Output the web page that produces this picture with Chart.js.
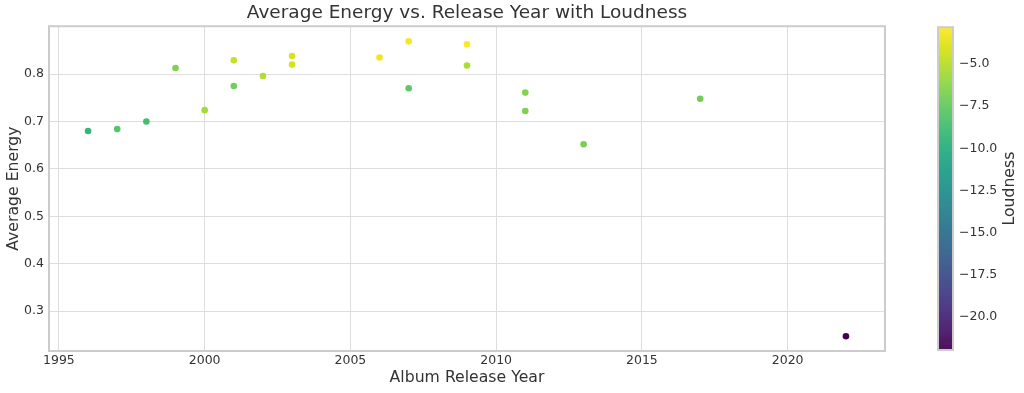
<!DOCTYPE html>
<html>
<head>
<meta charset="utf-8">
<script src="https://cdn.jsdelivr.net/npm/chart.js@4.4.1/dist/chart.umd.min.js"></script>
<style>
  html, body { margin: 0; padding: 0; background: #fff; }
  #wrap { width: 1024px; height: 393px; position: relative; }
</style>
</head>
<body>
<div id="wrap"><canvas id="c" width="1024" height="393"></canvas></div>
<script>
  'use strict';

  // data
  const YEARS = [1996, 1997, 1998, 1999, 2000, 2001, 2001, 2002, 2003, 2003,
                 2006, 2007, 2007, 2009, 2009, 2011, 2011, 2013, 2017, 2022];
  const ENERGY = [0.680, 0.684, 0.700, 0.813, 0.724, 0.829, 0.775, 0.796, 0.838, 0.820,
                  0.835, 0.869, 0.770, 0.863, 0.818, 0.761, 0.722, 0.652, 0.748, 0.247];
  const LOUDNESS = [-9.3, -8.0, -8.6, -6.6, -5.5, -4.5, -7.0, -5.1, -3.9, -4.1,
                    -3.2, -3.0, -7.6, -2.8, -5.2, -6.4, -6.6, -6.8, -7.0, -22.0];

  const X_TICKS = [1995, 2000, 2005, 2010, 2015, 2020];
  const Y_TICKS = [0.3, 0.4, 0.5, 0.6, 0.7, 0.8];
  const CB_TICKS = [-5.0, -7.5, -10.0, -12.5, -15.0, -17.5, -20.0];
  const CB_MIN = -22.0;
  const CB_MAX = -2.8;

  const VIRIDIS = ['#440154', '#48186a', '#472d7b', '#424086', '#3b528b', '#33638d',
                   '#2c728e', '#26828e', '#21918c', '#1fa088', '#28ae80', '#3fbc73',
                   '#5ec962', '#84d44b', '#addc30', '#d8e219', '#fde725'];

  const FONT = "'DejaVu Sans', sans-serif";
  const TEXT = '#333333';
  const GRID = '#dddddd';
  const FRAME = '#cccccc';
  const TICK_SIZE = 12.5;
  const LABEL_SIZE = 15.7;

  function hexRgb(h) {
    return [parseInt(h.slice(1, 3), 16), parseInt(h.slice(3, 5), 16), parseInt(h.slice(5, 7), 16)];
  }

  function viridis(t) {
    t = Math.max(0, Math.min(1, t));
    const p = t * (VIRIDIS.length - 1);
    const i = Math.min(Math.floor(p), VIRIDIS.length - 2);
    const f = p - i;
    const a = hexRgb(VIRIDIS[i]);
    const b = hexRgb(VIRIDIS[i + 1]);
    const c = a.map((v, k) => Math.round(v + (b[k] - v) * f));
    return `rgb(${c[0]}, ${c[1]}, ${c[2]})`;
  }

  const pointColors = LOUDNESS.map((v) => viridis((v - CB_MIN) / (CB_MAX - CB_MIN)));

  // frame around the plot + the colorbar on the right
  const extras = {
    id: 'extras',
    afterDraw(chart) {
      const { ctx, chartArea: a } = chart;
      ctx.save();
      ctx.strokeStyle = FRAME;
      ctx.lineWidth = 2;
      ctx.strokeRect(a.left, a.top, a.right - a.left, a.bottom - a.top);

      const bx = 938, bw = 15, top = a.top + 1, bot = a.bottom - 1;
      const h = bot - top;
      for (let y = 0; y < h; y++) {
        ctx.fillStyle = viridis(1 - y / h);
        ctx.fillRect(bx, top + y, bw, 1.5);
      }
      ctx.strokeStyle = FRAME;
      ctx.lineWidth = 2;
      ctx.strokeRect(bx, top, bw, h);

      ctx.fillStyle = TEXT;
      ctx.font = `${TICK_SIZE}px ${FONT}`;
      ctx.textAlign = 'left';
      ctx.textBaseline = 'middle';
      CB_TICKS.forEach((v) => {
        const y = bot - ((v - CB_MIN) / (CB_MAX - CB_MIN)) * h;
        ctx.fillText('\u2212' + Math.abs(v).toFixed(1), bx + bw + 6, y);
      });

      ctx.translate(1010, (top + bot) / 2);
      ctx.rotate(-Math.PI / 2);
      ctx.textAlign = 'center';
      ctx.font = `${LABEL_SIZE}px ${FONT}`;
      ctx.fillText('Loudness', 0, 0);
      ctx.restore();
    },
  };

  new Chart(document.getElementById('c').getContext('2d'), {
    type: 'scatter',
    data: {
      datasets: [{
        label: 'Albums',
        data: YEARS.map((x, i) => ({ x, y: ENERGY[i] })),
        backgroundColor: pointColors,
        borderColor: pointColors,
        borderWidth: 0,
        pointRadius: 3.3,
      }],
    },
    options: {
      responsive: false,
      animation: false,
      layout: { padding: { left: 0, right: 139, top: 0, bottom: 0 } },
      plugins: {
        legend: { display: false },
        tooltip: { enabled: false },
        title: {
          display: true,
          fullSize: false,
          text: 'Average Energy vs. Release Year with Loudness',
          color: TEXT,
          font: { family: FONT, size: 18.5, weight: 'normal' },
          padding: { top: 2, bottom: 2 },
        },
      },
      scales: {
        x: {
          type: 'linear',
          min: 1994.66,
          max: 2023.34,
          afterBuildTicks: (s) => { s.ticks = X_TICKS.map((value) => ({ value })); },
          afterFit: (s) => { s.height = 42; },
          grid: { color: GRID, lineWidth: 1, drawTicks: false },
          border: { display: false },
          ticks: {
            color: TEXT,
            font: { family: FONT, size: TICK_SIZE },
            padding: 2,
            maxRotation: 0,
            callback: (v) => String(v),
          },
          title: {
            display: true,
            text: 'Album Release Year',
            color: TEXT,
            font: { family: FONT, size: LABEL_SIZE },
            padding: { top: 0, bottom: 6 },
          },
        },
        y: {
          min: 0.216,
          max: 0.901,
          afterBuildTicks: (s) => { s.ticks = Y_TICKS.map((value) => ({ value })); },
          afterFit: (s) => { s.width = 49; },
          grid: { color: GRID, lineWidth: 1, drawTicks: false },
          border: { display: false },
          ticks: {
            color: TEXT,
            font: { family: FONT, size: TICK_SIZE },
            padding: 5,
            callback: (v) => v.toFixed(1),
          },
          title: {
            display: true,
            text: 'Average Energy',
            color: TEXT,
            font: { family: FONT, size: LABEL_SIZE },
            padding: { top: 4.5, bottom: 0 },
          },
        },
      },
    },
    plugins: [extras],
  });
</script>
</body>
</html>
